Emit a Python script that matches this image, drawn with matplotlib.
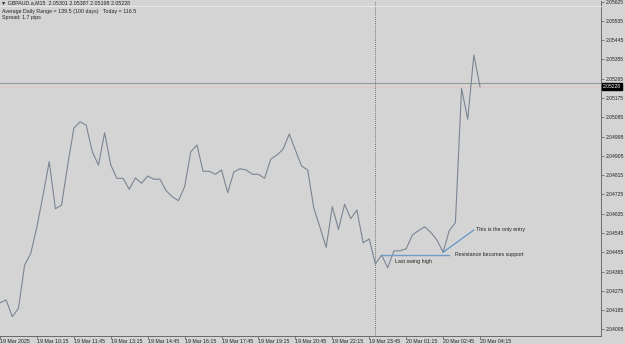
import matplotlib.pyplot as plt
from matplotlib.lines import Line2D
from matplotlib.transforms import blended_transform_factory

# GBPAUD M15 closes, 19 Mar 08:45 -> 20 Mar 04:15
closes = [2.04219, 2.04232, 2.04154, 2.04193, 2.04395, 2.04450, 2.04574, 2.04722,
          2.04878, 2.04658, 2.04675, 2.04862, 2.05034, 2.05064, 2.05049, 2.04924,
          2.04862, 2.05013, 2.04862, 2.04800, 2.04800, 2.04749, 2.04802, 2.04777,
          2.04811, 2.04796, 2.04796, 2.04742, 2.04714, 2.04696, 2.04761, 2.04924,
          2.04956, 2.04833, 2.04833, 2.04819, 2.04839, 2.04733, 2.04830, 2.04845,
          2.04839, 2.04819, 2.04819, 2.04800, 2.04890, 2.04909, 2.04936, 2.05007,
          2.04932, 2.04858, 2.04839, 2.04660, 2.04571, 2.04478, 2.04668, 2.04562,
          2.04679, 2.04612, 2.04652, 2.04499, 2.04517, 2.04400, 2.04442, 2.04383,
          2.04461, 2.04462, 2.04471, 2.04535, 2.04556, 2.04574, 2.04548, 2.04512,
          2.04455, 2.04556, 2.04593, 2.05220, 2.05076, 2.05376, 2.05228]

time_labels = ["19 Mar 2025", "19 Mar 10:15", "19 Mar 11:45", "19 Mar 13:15",
               "19 Mar 14:45", "19 Mar 16:15", "19 Mar 17:45", "19 Mar 19:15",
               "19 Mar 20:45", "19 Mar 22:15", "19 Mar 23:45", "20 Mar 01:15",
               "20 Mar 02:45", "20 Mar 04:15"]
label_every = 6

price_ticks = [2.04095, 2.04185, 2.04275, 2.04365, 2.04455, 2.04545, 2.04635,
               2.04725, 2.04815, 2.04905, 2.04995, 2.05085, 2.05175, 2.05265,
               2.05355, 2.05445, 2.05535, 2.05625]

bid = 2.05228
ask = 2.05244
day_break = 61

support_level = 2.04442
support_bars = [62, 73]
entry_bars = [72, 77]
entry_prices = [2.04455, 2.04559]

header = "\u25bc GBPAUD.a,M15  2.05301 2.05387 2.05198 2.05228"
info1 = "Average Daily Range = 139.5 (100 days)   Today = 116.5"
info2 = "Spread: 1.7 pips"

bg = "#d4d4d4"
fnt = ["Liberation Sans", "DejaVu Sans"]
fs = 3.8

fig = plt.figure(figsize=(6.25, 3.44), dpi=100, facecolor=bg)
ax = fig.add_axes([0.0, 1 - 336 / 344, 601 / 625, 335 / 344], facecolor=bg)

x = list(range(len(closes)))
ax.plot(x, closes, color="#7b8594", lw=0.8, zorder=3)

ax.set_xlim(0, 97.66)
ax.set_ylim(2.04064, 2.05628)

# price lines
ax.axhline(ask, color="#9a9a9a", lw=0.8, zorder=2)
ax.axhline(bid, color="#dcc8c0", lw=0.6, zorder=2)
ax.axvline(day_break, color="#505050", lw=0.6, ls=(0, (1, 1.5)), zorder=2)

# annotations
ax.plot(support_bars, [support_level, support_level], color="#6f9ccc", lw=1.0, zorder=4)
ax.plot(entry_bars, entry_prices, color="#5a8fcb", lw=0.8, zorder=4)
ax.text(64.2, 2.04414, "Last swing high", fontsize=fs, family=fnt, va="center", color="#222")
ax.text(73.9, 2.04444, "Resistance becomes support", fontsize=fs, family=fnt, va="center", color="#222")
ax.text(77.3, 2.04563, "This is the only entry", fontsize=fs, family=fnt, va="center", color="#222")

# axes styling
for s in ["left", "top"]:
    ax.spines[s].set_visible(False)
for s in ["right", "bottom"]:
    ax.spines[s].set_color("#6a6a6a")
    ax.spines[s].set_linewidth(0.7)

ax.yaxis.tick_right()
ax.set_yticks(price_ticks)
ax.set_yticklabels([f"{p:.5f}" for p in price_ticks], fontsize=3.6, family=fnt, color="#222")
ax.tick_params(axis="y", length=2, width=0.5, pad=1.5, color="#555")

ax.set_xticks(x[::label_every])
ax.set_xticklabels(time_labels, fontsize=fs, family=fnt, color="#222", ha="left")
ax.tick_params(axis="x", length=2, width=0.5, pad=0.5, color="#555")

# current price marker
tr = blended_transform_factory(ax.transAxes, ax.transData)
ax.text(1.003, bid, f"{bid:.5f}", transform=tr, fontsize=3.6, family=fnt, color="white",
        va="center", ha="left", clip_on=False,
        bbox=dict(boxstyle="square,pad=0.15", fc="black", ec="black"))

# header block
fig.add_artist(Line2D([0, 601 / 625], [1 - 5.5 / 344] * 2, color="#ececec", lw=0.6))
fig.text(0.002, 1 - 3 / 344, header, fontsize=fs, family=fnt, va="center", color="#222")
fig.text(0.004, 1 - 11 / 344, info1, fontsize=fs, family=fnt, va="center", color="#222")
fig.text(0.004, 1 - 17.5 / 344, info2, fontsize=fs, family=fnt, va="center", color="#222")

fig.savefig("out.png", dpi=100, facecolor=bg)
